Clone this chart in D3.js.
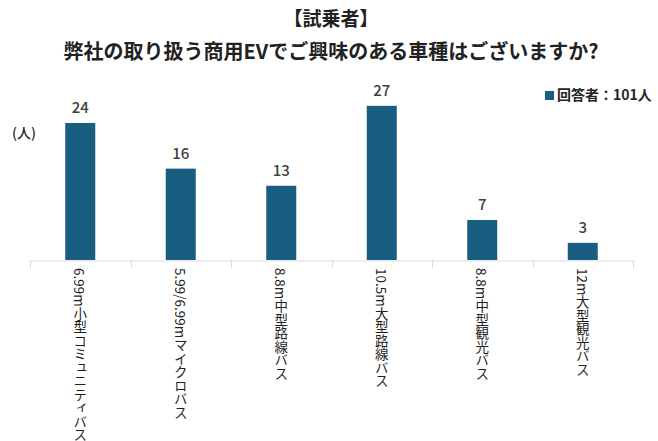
<!DOCTYPE html>
<html>
<head>
<meta charset="utf-8">
<script src="https://cdn.jsdelivr.net/npm/d3@7"></script>
<style>
  body { margin: 0; background: #fff; }
  text { font-family: "Noto Sans CJK JP", "Noto Sans", sans-serif; }
</style>
</head>
<body>
<div id="chart"></div>
<script>
let width = 658;
let height = 441;

let categories = ["6.99m小型コミュニティバス", "5.99/6.99mマイクロバス", "8.8m中型路線バス", "10.5m大型路線バス", "8.8m中型観光バス", "12m大型観光バス"];
let values = [24, 16, 13, 27, 7, 3];
let titleLines = ["【試乗者】", "弊社の取り扱う商用EVでご興味のある車種はございますか?"];
let legendLabel = "回答者：101人";
let unitLabel = "(人)";

let barColor = "#185e80";

let svg = d3.select("#chart")
  .append("svg")
    .attr("width", width)
    .attr("height", height);

let xScale = d3.scaleBand().domain(categories).range([30, 633]);
let yScale = d3.scaleLinear().domain([0, 30]).range([260, 88.7]);

// axis line + category dividers
let xAxis = d3.axisBottom(xScale).tickSize(0).tickFormat("");
let xAxisGroup = svg.append("g").attr("transform", "translate(0,260.5)").call(xAxis);
xAxisGroup.select(".domain").attr("stroke", "#d9d9d9");

let dividers = [0].concat(categories.map((c, i) => i + 1));
svg.selectAll(".divider").data(dividers).enter()
  .append("line")
    .attr("class", "divider")
    .attr("x1", d => Math.round(30 + d * xScale.step()) + 0.5)
    .attr("x2", d => Math.round(30 + d * xScale.step()) + 0.5)
    .attr("y1", 260)
    .attr("y2", 268)
    .attr("stroke", "#d9d9d9");

let barWidth = 30;
let groups = svg.selectAll(".datagroup")
  .data(categories.map((c, i) => ({cat: c, value: values[i]})))
  .enter()
  .append("g")
    .attr("class", "datagroup");

groups.append("rect")
  .attr("x", d => xScale(d.cat) + xScale.bandwidth() / 2 - barWidth / 2)
  .attr("y", d => yScale(d.value))
  .attr("width", barWidth)
  .attr("height", d => yScale(0) - yScale(d.value))
  .attr("fill", barColor);

groups.append("text")
  .attr("x", d => xScale(d.cat) + xScale.bandwidth() / 2)
  .attr("y", d => yScale(d.value) - 10)
  .attr("text-anchor", "middle")
  .attr("font-size", 15)
  .attr("font-weight", 500)
  .attr("fill", "#404040")
  .text(d => d.value);

// vertical category labels
groups.append("text")
  .attr("x", d => xScale(d.cat) + xScale.bandwidth() / 2)
  .attr("y", 268)
  .style("writing-mode", "vertical-rl")
  .style("text-orientation", "mixed")
  .attr("font-size", 13.5)
  .attr("font-weight", 400)
  .attr("fill", "#1f1f1f")
  .text(d => d.cat);

// title
svg.selectAll(".title").data(titleLines).enter()
  .append("text")
    .attr("class", "title")
    .attr("x", 331)
    .attr("y", (d, i) => i == 0 ? 26 : 59)
    .attr("text-anchor", "middle")
    .attr("font-size", (d, i) => i == 0 ? 19 : 20)
    .attr("font-weight", 700)
    .attr("fill", "#222")
    .text(d => d);

// unit label
svg.append("text")
  .attr("x", 12)
  .attr("y", 138)
  .attr("font-size", 14)
  .attr("font-weight", 500)
  .attr("fill", "#262626")
  .text(unitLabel);

// legend
svg.append("rect")
  .attr("x", 545)
  .attr("y", 91)
  .attr("width", 9)
  .attr("height", 9)
  .attr("fill", barColor);
svg.append("text")
  .attr("x", 557)
  .attr("y", 100)
  .attr("font-size", 14)
  .attr("font-weight", 700)
  .attr("fill", "#262626")
  .text(legendLabel);
</script>
</body>
</html>
